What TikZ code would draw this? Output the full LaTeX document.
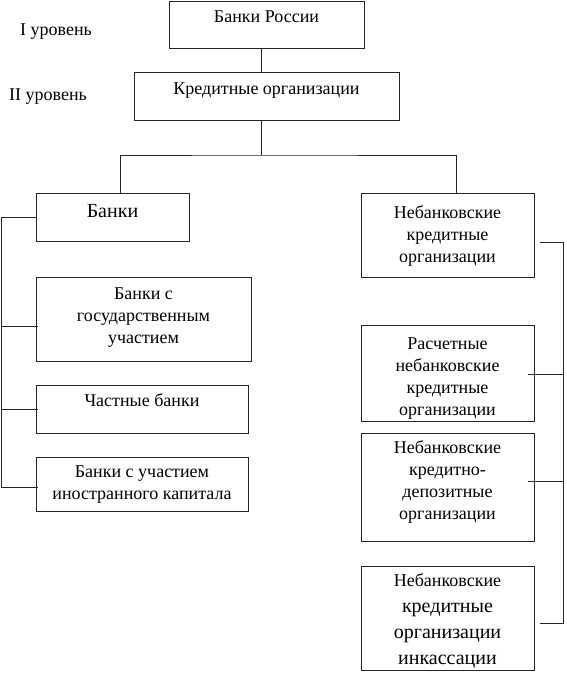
\documentclass[tikz,border=0pt]{standalone}
\usepackage{fontspec}
\setmainfont{Liberation Serif}
\begin{document}
\begin{tikzpicture}[x=1pt,y=-1pt,
  box/.style={draw=black!85, line width=0.8pt, rectangle, inner sep=0pt},
  txt/.style={anchor=north, align=center, inner sep=0pt, font=\fontsize{18}{22}\selectfont},
  big/.style={font=\fontsize{20}{26}\selectfont},
  conn/.style={draw=black!85, line width=0.8pt}]
\useasboundingbox (0,0) rectangle (566,675);

% level labels
\node[anchor=base west, inner sep=0pt, font=\fontsize{18}{22}\selectfont] (lv1) at (20,35) {I уровень};
\node[anchor=base west, inner sep=0pt, font=\fontsize{18}{22}\selectfont] (lv2) at (9,100) {II уровень};

% boxes
\node[box, minimum width=195, minimum height=47] (rus) at (266.5,24.5) {};
\node[box, minimum width=265, minimum height=48] (kred) at (266.5,96) {};
\node[box, minimum width=153, minimum height=48] (banks) at (112.5,217) {};
\node[box, minimum width=215, minimum height=84] (gov) at (143.5,319) {};
\node[box, minimum width=212, minimum height=48] (priv) at (142,409) {};
\node[box, minimum width=212, minimum height=54] (forn) at (142,484) {};
\node[box, minimum width=173, minimum height=84] (nb) at (447.5,235) {};
\node[box, minimum width=173, minimum height=96] (calc) at (447.5,373) {};
\node[box, minimum width=173, minimum height=108] (dep) at (447.5,487) {};
\node[box, minimum width=173, minimum height=104] (inc) at (447.5,618) {};

% texts
\node[txt] (trus) at (266.5,11) {Банки России};
\node[txt] (tkred) at (266.5,83) {Кредитные организации};
\node[txt, big] (tbanks) at (112.5,204) {Банки};
\node[txt] (tgov) at (143.5,288) {Банки с\\государственным\\участием};
\node[txt] (tpriv) at (142,393) {Частные банки};
\node[txt] (tforn) at (142,466) {Банки с участием\\иностранного капитала};
\node[txt] (tnb) at (447.5,205) {Небанковские\\кредитные\\организации};
\node[txt] (tcalc) at (447.5,338) {Расчетные\\небанковские\\кредитные\\организации};
\node[txt] (tdep) at (447.5,440) {Небанковские\\кредитно-\\депозитные\\организации};
\node[txt, big] (tinc) at (447.5,573) {{\fontsize{18}{22}\selectfont Небанковские}\\кредитные\\организации\\инкассации};

% connectors
\coordinate (j) at (261,155);
\coordinate (L) at (1,0);
\coordinate (R) at (563,0);
\draw[conn] ([xshift=-5.5]rus.south) -- ([xshift=-5.5]kred.north);
\draw[conn] ([xshift=-5.5]kred.south) -- (j);
\draw[conn] ([xshift=7.5]banks.north) |- (j) -| ([xshift=8.5]nb.north);

\draw[conn] (banks.west) -| ([yshift=-3]forn.west -| L) -- ([yshift=-3,xshift=2]forn.west);
\draw[conn] ([yshift=-7,xshift=2]gov.west) -- ([yshift=-7]gov.west -| L);
\draw[conn] ([xshift=2]priv.west) -- (priv.west -| L);

\draw[conn] ([xshift=6,yshift=-7]nb.east) -| ([yshift=-5]inc.east -| R) -- ([xshift=6,yshift=-5]inc.east);
\draw[conn] ([xshift=-6,yshift=-1]calc.east) -- ([yshift=-1]calc.east -| R);
\draw[conn] ([xshift=-6,yshift=6]dep.east) -- ([yshift=6]dep.east -| R);
\end{tikzpicture}
\end{document}
